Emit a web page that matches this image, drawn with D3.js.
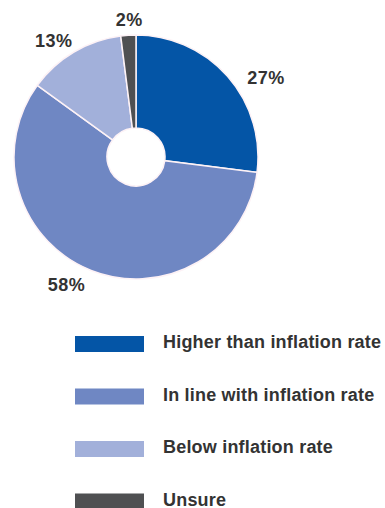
<!DOCTYPE html>
<html>
<head>
    <meta charset="utf-8">
    <script src="https://d3js.org/d3.v7.min.js"></script>
    <style>
        body { margin: 0; background: #fff; }
        text { font-family: "Liberation Sans", Arial, sans-serif; font-weight: bold; fill: #333; }
    </style>
</head>
<body>
<script>
    // chart data
    const categories = ["Higher than inflation rate", "In line with inflation rate", "Below inflation rate", "Unsure"];
    const shares = [27, 58, 13, 2];
    const labels = ["27%", "58%", "13%", "2%"];
    const colours = ["#0455a6", "#6f87c3", "#a2b0da", "#4f5052"];

    let width = 385, height = 508;
    let cx = 136, cy = 157, outer = 122, inner = 29;

    let svg = d3.select("body").append("svg")
        .attr("width", width)
        .attr("height", height);

    let pie = d3.pie().sort(null).value(d => d);
    let arc = d3.arc().innerRadius(inner).outerRadius(outer);
    let slices = pie(shares);

    let g = svg.append("g").attr("transform", `translate(${cx},${cy})`);
    g.selectAll("path")
        .data(slices)
        .join("path")
        .attr("d", arc)
        .attr("fill", (d, i) => colours[i])
        .attr("stroke", "#fdf2f6")
        .attr("stroke-width", 1.5);

    // label positions sit outside the ring
    let labelArc = d3.arc().innerRadius(outer + 18).outerRadius(outer + 18);
    let nudges = [[25, 13], [-18, -2], [-11, 4], [2, 2]];
    g.selectAll("text.lbl")
        .data(slices)
        .join("text")
        .attr("class", "lbl")
        .attr("x", (d, i) => labelArc.centroid(d)[0] + nudges[i][0])
        .attr("y", (d, i) => labelArc.centroid(d)[1] + nudges[i][1])
        .attr("text-anchor", "middle")
        .attr("dy", "0.35em")
        .style("font-size", "18px")
        .style("letter-spacing", "0.5px")
        .text((d, i) => labels[i]);

    // legend
    let legendY = d3.scalePoint().domain(categories).range([344, 501.5]);
    let legend = svg.append("g").selectAll("g")
        .data(categories)
        .join("g")
        .attr("transform", d => `translate(0,${legendY(d)})`);
    legend.append("rect")
        .attr("x", 75).attr("y", -8)
        .attr("width", 69).attr("height", 16)
        .attr("fill", (d, i) => colours[i]);
    legend.append("text")
        .attr("x", 163)
        .attr("y", 4)
        .style("font-size", "18px")
        .style("letter-spacing", "0.2px")
        .text(d => d);
</script>
</body>
</html>
